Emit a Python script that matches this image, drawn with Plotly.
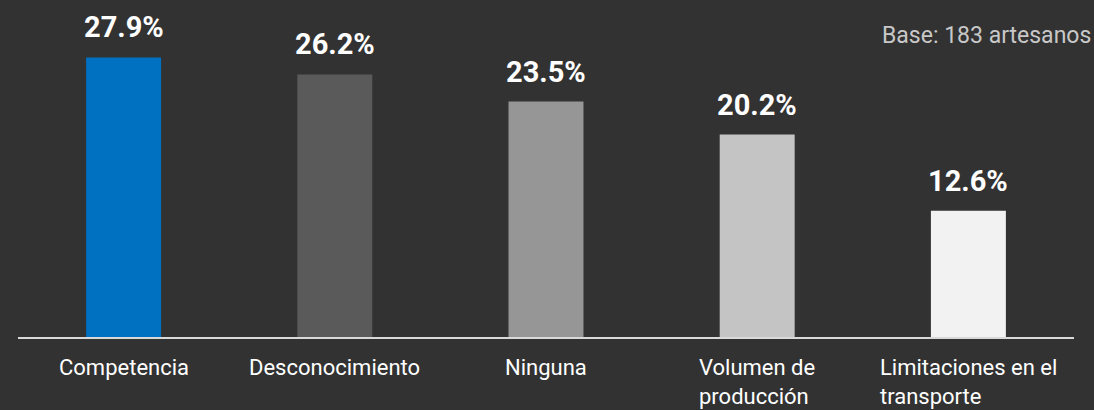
import plotly.graph_objects as go

categories = ["Competencia", "Desconocimiento", "Ninguna", "Volumen de producción", "Limitaciones en el transporte"]
axis_labels = ["Competencia", "Desconocimiento", "Ninguna", "Volumen de<br>producción", "Limitaciones en el<br>transporte"]
values = [27.9, 26.2, 23.5, 20.2, 12.6]
bar_colors = ["#0070C0", "#5A5A5A", "#969696", "#C4C4C4", "#F2F2F2"]
base_note = "Base: 183 artesanos"

BG = "#323232"
FONT = "Roboto"

fig = go.Figure()
fig.add_trace(
    go.Bar(
        x=categories,
        y=values,
        marker={"color": bar_colors, "line": {"width": 0}},
        hoverinfo="skip",
        showlegend=False,
    )
)

# value labels above each bar
for cat, val in zip(categories, values):
    fig.add_annotation(
        x=cat,
        y=val,
        text=f"{val:.1f}%",
        showarrow=False,
        yanchor="bottom",
        yshift=11,
        font={"family": FONT, "size": 29, "color": "white", "weight": "bold"},
    )

# category labels below the axis (left aligned inside a centred box)
for cat, lab in zip(categories, axis_labels):
    fig.add_annotation(
        x=cat,
        y=0,
        text=lab,
        showarrow=False,
        xanchor="center",
        yanchor="top",
        align="left",
        yshift=-16,
        font={"family": FONT, "size": 22, "color": "white"},
    )

# sample size note, top right
fig.add_annotation(
    x=1,
    xref="paper",
    y=1 - (35 / 337),
    yref="paper",
    xshift=19,
    text=base_note,
    showarrow=False,
    xanchor="right",
    yanchor="middle",
    font={"family": FONT, "size": 23, "color": "#C8C8C8"},
)

fig.update_layout(
    width=1094,
    height=410,
    plot_bgcolor=BG,
    paper_bgcolor=BG,
    bargap=0.645,
    margin={"l": 18, "r": 20, "t": 0, "b": 73},
    font={"family": FONT, "color": "white"},
    xaxis={
        "showticklabels": False,
        "showgrid": False,
        "zeroline": False,
        "showline": True,
        "linecolor": "#D9D9D9",
        "linewidth": 2,
        "ticks": "",
    },
    yaxis={
        "range": [0, 33.63],
        "visible": False,
        "showgrid": False,
        "zeroline": False,
    },
)

fig.write_html(
    "out.html",
    config={"displayModeBar": False},
    post_script="document.body.style.margin='0';document.body.style.background='#323232';",
)
